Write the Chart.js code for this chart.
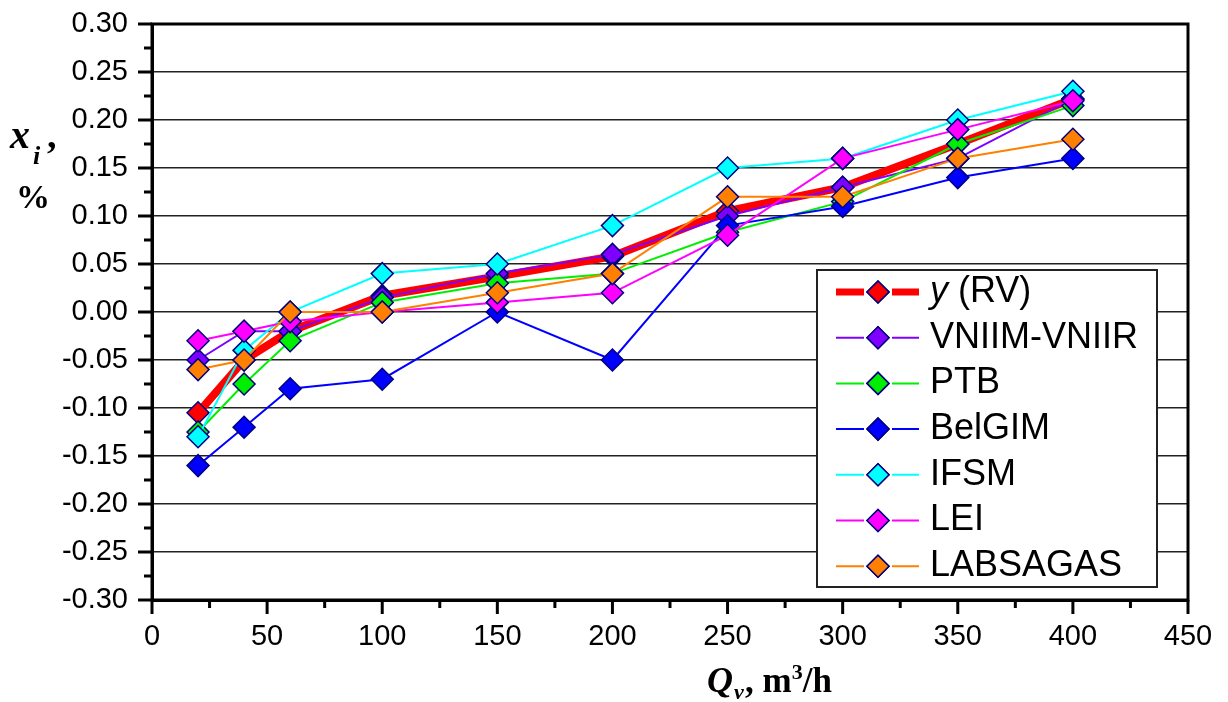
<!DOCTYPE html>
<html>
<head>
<meta charset="utf-8">
<script src="https://cdn.jsdelivr.net/npm/chart.js@4.4.1/dist/chart.umd.min.js"></script>
<style>
    html, body { margin: 0; padding: 0; background: #ffffff; }
    #wrap { width: 1228px; height: 702px; position: relative; }
</style>
</head>
<body>
<div id="wrap"><canvas id="qv-chart"></canvas></div>
<script>
// Débits (m3/h)
const flowRates = [20, 40, 60, 100, 150, 200, 250, 300, 350, 400];

// Écarts x_i, %
const rvValues       = [-0.105, -0.05, -0.02, 0.017, 0.037, 0.058, 0.105, 0.13, 0.175, 0.222];
const vniimValues    = [-0.05, -0.02, -0.02, 0.015, 0.04, 0.06, 0.10, 0.13, 0.16, 0.222];
const ptbValues      = [-0.125, -0.075, -0.03, 0.01, 0.03, 0.04, 0.083, 0.115, 0.175, 0.215];
const belgimValues   = [-0.16, -0.12, -0.08, -0.07, 0.00, -0.05, 0.09, 0.11, 0.14, 0.16];
const ifsmValues     = [-0.13, -0.04, 0.00, 0.04, 0.05, 0.09, 0.15, 0.16, 0.20, 0.23];
const leiValues      = [-0.03, -0.02, -0.01, 0.00, 0.01, 0.02, 0.08, 0.16, 0.19, 0.22];
const labsagasValues = [-0.06, -0.05, 0.00, 0.00, 0.02, 0.04, 0.12, 0.12, 0.16, 0.18];

const seriesLabels = ['y (RV)', 'VNIIM-VNIIR', 'PTB', 'BelGIM', 'IFSM', 'LEI', 'LABSAGAS'];
const seriesValues = [rvValues, vniimValues, ptbValues, belgimValues, ifsmValues, leiValues, labsagasValues];
const seriesColors = ['#ff0000', '#8000ff', '#00ee00', '#0000ff', '#00ffff', '#ff00ff', '#ff8000'];
const seriesWidths = [8, 2, 2, 2, 2, 2, 2];

const xTicks = [0, 50, 100, 150, 200, 250, 300, 350, 400, 450];

const MARKER_EDGE = '#000080';
const FONT = '"Liberation Sans", Arial, sans-serif';
const SERIF = '"Liberation Serif", "Times New Roman", serif';

/**
 * Dessine le cadre, les graduations, la légende et les titres d'axes
 */
const decorPlugin = {
    id: 'decor',
    afterDraw(chart) {
        const ctx = chart.ctx;
        const area = chart.chartArea;
        const xs = chart.scales.x;
        const ys = chart.scales.y;
        ctx.save();

        // Cadre épais
        ctx.strokeStyle = '#000';
        ctx.lineWidth = 3;
        ctx.strokeRect(area.left, area.top, area.right - area.left, area.bottom - area.top);

        // Graduations majeures et mineures (vers l'extérieur)
        ctx.lineWidth = 3;
        for (let v = 0; v <= 450; v += 25) {
            const px = xs.getPixelForValue(v);
            const len = v % 50 === 0 ? 14 : 8;
            ctx.beginPath();
            ctx.moveTo(px, area.bottom);
            ctx.lineTo(px, area.bottom + len);
            ctx.stroke();
        }
        for (let i = 0; i <= 24; i++) {
            const v = -0.30 + i * 0.025;
            const py = ys.getPixelForValue(v);
            const len = i % 2 === 0 ? 14 : 8;
            ctx.beginPath();
            ctx.moveTo(area.left, py);
            ctx.lineTo(area.left - len, py);
            ctx.stroke();
        }

        // Légende encadrée dans la zone du graphique
        const box = { x: 817, y: 270, w: 340, h: 317 };
        ctx.fillStyle = '#fff';
        ctx.fillRect(box.x, box.y, box.w, box.h);
        ctx.strokeStyle = '#222';
        ctx.lineWidth = 2;
        ctx.strokeRect(box.x, box.y, box.w, box.h);

        chart.data.datasets.forEach((ds, i) => {
            const cy = 292 + i * 45.7;
            ctx.strokeStyle = ds.borderColor;
            ctx.lineWidth = i === 0 ? 7 : 2;
            ctx.beginPath();
            ctx.moveTo(836, cy); ctx.lineTo(864, cy);
            ctx.moveTo(892, cy); ctx.lineTo(919, cy);
            ctx.stroke();
            ctx.fillStyle = ds.pointBackgroundColor;
            ctx.strokeStyle = MARKER_EDGE;
            ctx.lineWidth = 1.5;
            Chart.helpers.drawPoint(ctx, { pointStyle: 'rectRot', radius: 11, borderWidth: 1.5 }, 878, cy);
            ctx.fill();
            ctx.stroke();

            ctx.fillStyle = '#000';
            ctx.textBaseline = 'middle';
            ctx.textAlign = 'left';
            if (i === 0) {
                ctx.font = 'italic 36px ' + FONT;
                ctx.fillText('y', 930, cy);
                const w = ctx.measureText('y ').width;
                ctx.font = '36px ' + FONT;
                ctx.fillText('(RV)', 930 + w, cy);
            } else {
                ctx.font = '36px ' + FONT;
                ctx.fillText(ds.label, 930, cy);
            }
        });

        // Titre de l'axe Y : x_i , %
        ctx.fillStyle = '#000';
        ctx.textAlign = 'left';
        ctx.textBaseline = 'alphabetic';
        ctx.font = 'bold italic 40px ' + SERIF;
        ctx.fillText('x', 10, 148);
        ctx.font = 'bold italic 26px ' + SERIF;
        ctx.fillText('i', 33, 164);
        ctx.font = 'bold 38px ' + SERIF;
        ctx.fillText(',', 47, 148);
        ctx.font = 'bold 34px ' + SERIF;
        ctx.fillText('%', 16, 208);

        // Titre de l'axe X : Q_v, m3/h
        ctx.font = 'bold italic 36px ' + SERIF;
        ctx.fillText('Q', 707, 692);
        ctx.font = 'bold italic 22px ' + SERIF;
        ctx.fillText('v', 734, 699);
        ctx.font = 'bold 35px ' + SERIF;
        ctx.fillText(', m', 745, 692);
        let wx = 745 + ctx.measureText(', m').width;
        ctx.font = 'bold 22px ' + SERIF;
        ctx.fillText('3', wx, 679);
        wx += ctx.measureText('3').width;
        ctx.font = 'bold 35px ' + SERIF;
        ctx.fillText('/h', wx, 692);

        ctx.restore();
    }
};

// Construction des datasets : les derniers sont dessinés au-dessus
const datasets = seriesLabels.map((label, i) => ({
    label: label,
    data: flowRates.map((q, k) => ({ x: q, y: seriesValues[i][k] })),
    borderColor: seriesColors[i],
    borderWidth: seriesWidths[i],
    pointStyle: 'rectRot',
    pointRadius: 11,
    pointHoverRadius: 11,
    pointBackgroundColor: seriesColors[i],
    pointBorderColor: MARKER_EDGE,
    pointBorderWidth: 1.5,
    tension: 0,
    order: seriesLabels.length - i
}));

new Chart(document.getElementById('qv-chart'), {
    type: 'scatter',
    data: { datasets: datasets },
    options: {
        responsive: true,
        maintainAspectRatio: false,
        animation: false,
        showLine: true,
        layout: { padding: { left: 0, top: 24, right: 40, bottom: 0 } },
        plugins: {
            legend: { display: false },
            tooltip: { enabled: false }
        },
        scales: {
            x: {
                type: 'linear',
                min: 0,
                max: 450,
                afterBuildTicks: (scale) => { scale.ticks = xTicks.map(v => ({ value: v })); },
                afterFit: (scale) => {
                    scale.height = 102;
                    scale.paddingLeft = 0;
                    scale.paddingRight = 0;
                },
                grid: { display: false, drawTicks: false },
                border: { display: true, color: '#000', width: 3 },
                ticks: {
                    padding: 20,
                    color: '#000',
                    font: { family: FONT, size: 29 },
                    maxRotation: 0
                }
            },
            y: {
                type: 'linear',
                min: -0.30,
                max: 0.30,
                afterFit: (scale) => {
                    scale.width = 152;
                    scale.paddingTop = 0;
                    scale.paddingBottom = 0;
                },
                grid: { color: '#222', lineWidth: 1.5, drawTicks: false },
                border: { display: true, color: '#000', width: 3 },
                ticks: {
                    stepSize: 0.05,
                    padding: 24,
                    color: '#000',
                    font: { family: FONT, size: 29 },
                    callback: (v) => Math.abs(v) < 1e-9 ? '0.00' : Number(v).toFixed(2)
                }
            }
        }
    },
    plugins: [decorPlugin]
});
</script>
</body>
</html>
